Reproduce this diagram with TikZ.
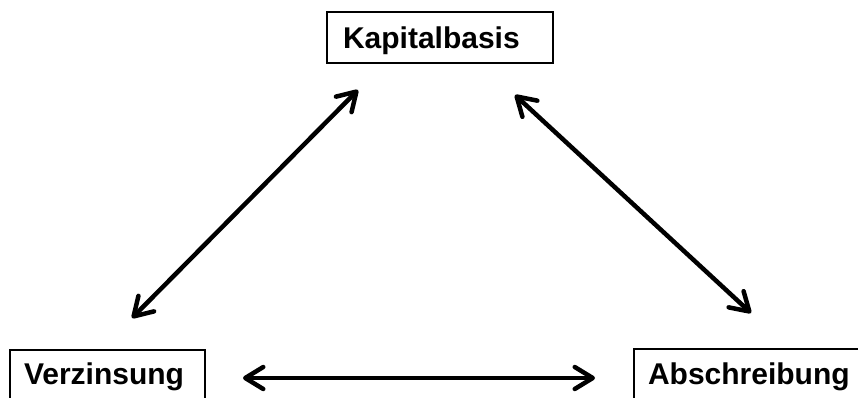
\documentclass[tikz,border=0pt]{standalone}
\usepackage{fontspec}
\setmainfont{Liberation Sans}
\usetikzlibrary{arrows.meta}
\begin{document}
\begin{tikzpicture}[x=1pt,y=1pt,
  lbl/.style={draw=black, line width=2pt, inner ysep=0pt, align=left,
    font=\fontsize{30}{36}\selectfont\bfseries, anchor=north west},
  rel/.style={line width=4.5pt, line cap=round,
    {Straight Barb[length=18pt,width=22pt,line cap=round,line join=round]}-{Straight Barb[length=18pt,width=22pt,line cap=round,line join=round]}}]
\useasboundingbox (0,0) rectangle (858,397);
\node[lbl, inner xsep=16pt, text width=194pt, text height=37pt, text depth=14pt] (kap) at (326,386) {Kapitalbasis};
\node[lbl, inner xsep=14pt, text width=167pt, text height=34pt, text depth=20pt] (ver) at (9,48) {Verzinsung};
\node[lbl, inner xsep=14pt, text width=203pt, text height=35pt, text depth=20pt] (abs) at (633,49) {Abschreibung};
\coordinate (vk) at (132,79);
\coordinate (kv) at (358,307);
\coordinate (ka) at (515,302);
\coordinate (ak) at (751,84);
\coordinate (va) at (243,19);
\coordinate (av) at (595,19);
\draw[rel] (vk) -- (kv);
\draw[rel] (ka) -- (ak);
\draw[rel] (va) -- (av);
\end{tikzpicture}
\end{document}
